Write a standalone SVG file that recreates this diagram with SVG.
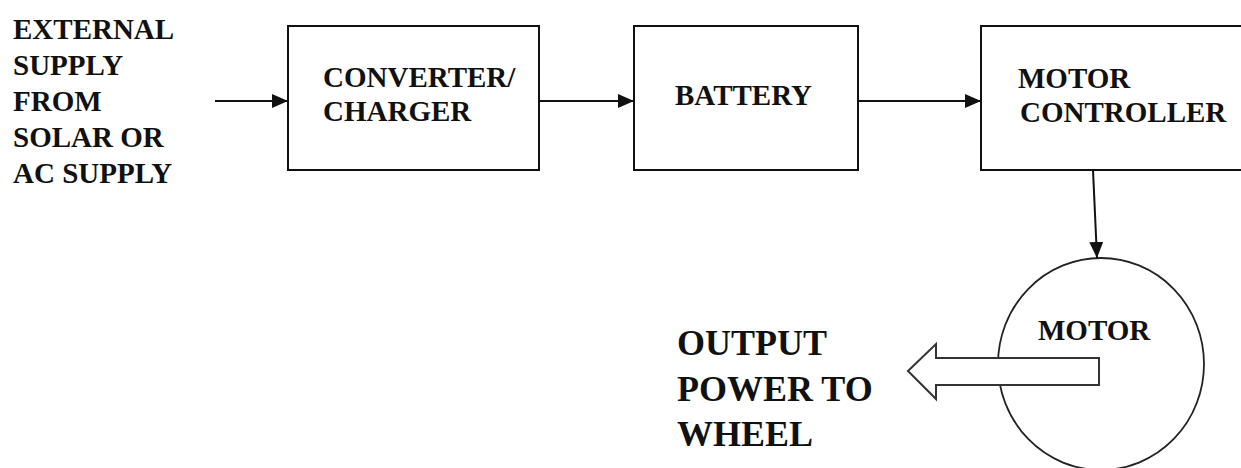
<svg xmlns="http://www.w3.org/2000/svg" width="1241" height="468" viewBox="0 0 1241 468">
<style>
.box{fill:#fff;stroke:#111;stroke-width:2}
.t{font-family:"Liberation Serif","Times New Roman",serif;font-weight:bold;font-size:29px;fill:#111}
.big{font-size:36px}
.conn{stroke:#111;stroke-width:2;fill:none}
</style>
<defs>
<marker id="ah" markerUnits="userSpaceOnUse" markerWidth="18" markerHeight="16" refX="16" refY="7" orient="auto">
<path d="M0,0 L16,7 L0,14 Z" fill="#111"/>
</marker>
</defs>
<rect width="1241" height="468" fill="#fff"/>
<g id="source">
<text class="t" x="13" y="39">EXTERNAL</text>
<text class="t" x="13" y="75">SUPPLY</text>
<text class="t" x="13" y="111">FROM</text>
<text class="t" x="13" y="147">SOLAR OR</text>
<text class="t" x="13" y="183">AC SUPPLY</text>
</g>
<g id="converter">
<rect class="box" x="288" y="26" width="251" height="144"/>
<text class="t" x="323" y="87">CONVERTER/</text>
<text class="t" x="323" y="121">CHARGER</text>
</g>
<g id="battery">
<rect class="box" x="634" y="26" width="224" height="144"/>
<text class="t" x="675" y="105">BATTERY</text>
</g>
<g id="controller">
<rect class="box" x="981" y="26" width="270" height="144"/>
<text class="t" x="1018" y="88">MOTOR</text>
<text class="t" x="1020" y="122">CONTROLLER</text>
</g>
<g id="motor">
<ellipse cx="1101" cy="364" rx="103" ry="106" fill="#fff" stroke="#222" stroke-width="1.8"/>
<text class="t" x="1038" y="340">MOTOR</text>
</g>
<g id="output">
<polygon points="908,371 936,344 936,358 1099,358 1099,385 936,385 936,399" fill="#fff" stroke="#333" stroke-width="2"/>
<text class="t big" x="677" y="355">OUTPUT</text>
<text class="t big" x="677" y="401">POWER TO</text>
<text class="t big" x="677" y="446">WHEEL</text>
</g>
<g id="connectors">
<line class="conn" x1="215" y1="101" x2="288" y2="101" marker-end="url(#ah)"/>
<line class="conn" x1="539" y1="101" x2="634" y2="101" marker-end="url(#ah)"/>
<line class="conn" x1="858" y1="101" x2="981" y2="101" marker-end="url(#ah)"/>
<line class="conn" x1="1093" y1="170" x2="1097" y2="258" marker-end="url(#ah)"/>
</g>
</svg>
